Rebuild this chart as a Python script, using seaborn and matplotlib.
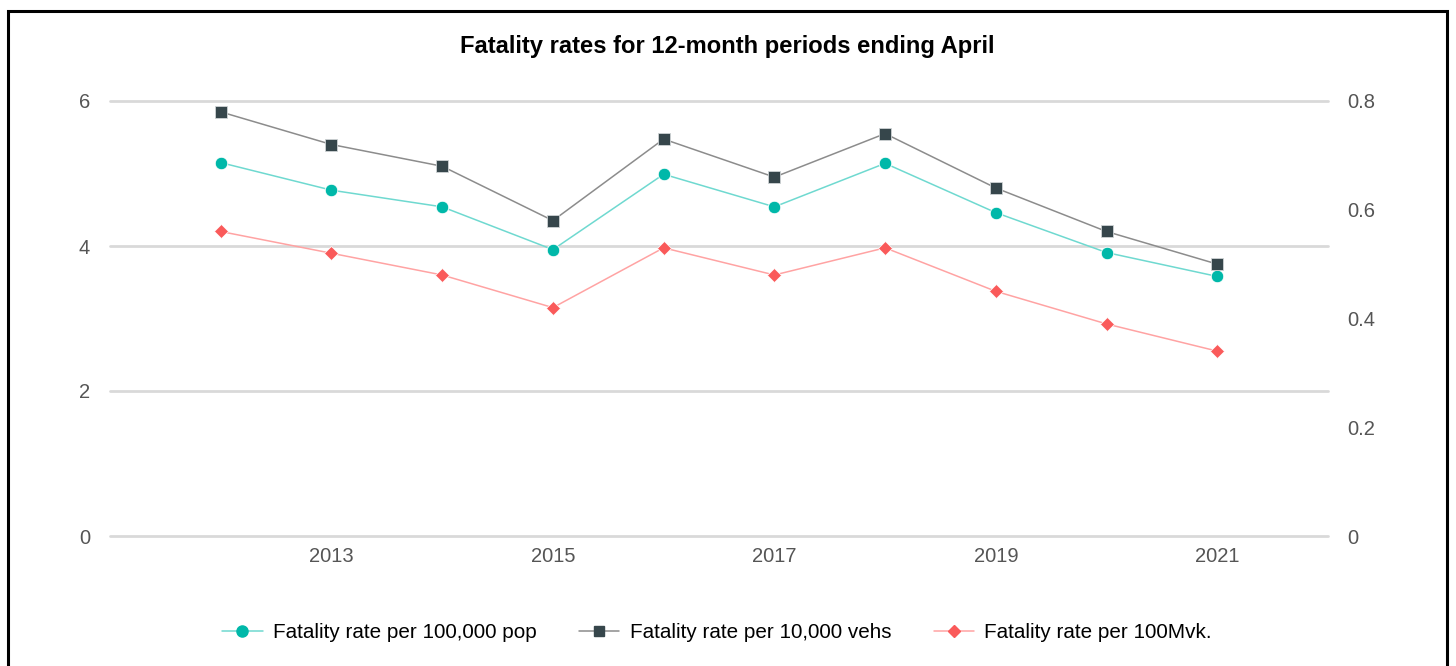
import matplotlib
matplotlib.use("Agg")
import matplotlib.pyplot as plt
from matplotlib.lines import Line2D
from matplotlib.patches import Rectangle
import seaborn as sns
import pandas as pd

# Fatality rates, 12-month periods ending April
years = [2012, 2013, 2014, 2015, 2016, 2017, 2018, 2019, 2020, 2021]
rate_per_100k_pop = [5.15, 4.77, 4.54, 3.95, 4.99, 4.54, 5.14, 4.46, 3.91, 3.58]
rate_per_10k_vehs = [0.78, 0.72, 0.68, 0.58, 0.73, 0.66, 0.74, 0.64, 0.56, 0.50]
rate_per_100mvk = [0.56, 0.52, 0.48, 0.42, 0.53, 0.48, 0.53, 0.45, 0.39, 0.34]

series_labels = ["Fatality rate per 100,000 pop",
                 "Fatality rate per 10,000 vehs",
                 "Fatality rate per 100Mvk."]
left_ticks = [0, 2, 4, 6]
right_ticks = [0, 0.2, 0.4, 0.6, 0.8]
right_tick_labels = ["0", "0.2", "0.4", "0.6", "0.8"]
x_ticks = [2013, 2015, 2017, 2019, 2021]

df = pd.DataFrame({
    "year": years,
    "pop": rate_per_100k_pop,
    "vehs": rate_per_10k_vehs,
    "mvk": rate_per_100mvk,
})

sns.set_theme(style="white")
plt.rcParams["font.family"] = ["Liberation Sans", "DejaVu Sans"]

fig = plt.figure(figsize=(14.56, 6.66), dpi=100)
ax = fig.add_axes([110 / 1456, 1 - 536 / 666, (1328 - 110) / 1456, (536 - 101) / 666])
ax2 = ax.twinx()

teal_mk, teal_ln = "#00b8a9", "#6fd9d0"
dark_mk, dark_ln = "#36464b", "#8c8c8c"
red_mk, red_ln = "#fa5a5a", "#ffa3a3"

sns.lineplot(data=df, x="year", y="pop", ax=ax, color=teal_ln, lw=1.1,
             marker="o", markersize=9, markerfacecolor=teal_mk,
             markeredgecolor="white", markeredgewidth=0.6, zorder=3)
sns.lineplot(data=df, x="year", y="vehs", ax=ax2, color=dark_ln, lw=1.1,
             marker="s", markersize=9, markerfacecolor=dark_mk,
             markeredgecolor="#cfd4d6", markeredgewidth=0.6, zorder=3)
sns.lineplot(data=df, x="year", y="mvk", ax=ax2, color=red_ln, lw=1.1,
             marker="D", markersize=7, markerfacecolor=red_mk,
             markeredgecolor="white", markeredgewidth=0.5, zorder=3)

ax.set_xlim(2011, 2022)
ax.set_ylim(0, 6)
ax2.set_ylim(0, 0.8)
ax.set_xticks(x_ticks)
ax.set_yticks(left_ticks)
ax2.set_yticks(right_ticks)
ax2.set_yticklabels(right_tick_labels)

ax.grid(axis="y", color="#d9d9d9", lw=2)
ax.grid(axis="x", visible=False)
ax2.grid(False)
for line in ax.get_ygridlines():
    line.set_clip_on(False)
for a in (ax, ax2):
    for s in a.spines.values():
        s.set_visible(False)
    a.set_xlabel("")
    a.set_ylabel("")
    a.tick_params(length=0, labelsize=14.5, labelcolor="#555555")
ax.tick_params(axis="y", pad=14.4)
ax2.tick_params(axis="y", pad=13.7)
ax.tick_params(axis="x", pad=8)
ax.set_axisbelow(True)
ax.patch.set_visible(False)
ax2.patch.set_visible(False)
ax.set_zorder(1)
ax2.set_zorder(2)

fig.text(727 / 1456, 1 - 47 / 666, "Fatality rates for 12-month periods ending April",
         ha="center", va="center", fontsize=17.1, fontweight="bold", color="black")

handles = [
    Line2D([], [], color=teal_ln, lw=1.1, marker="o", markersize=8,
           markerfacecolor=teal_mk, markeredgecolor=teal_mk),
    Line2D([], [], color=dark_ln, lw=1.1, marker="s", markersize=7,
           markerfacecolor=dark_mk, markeredgecolor=dark_mk),
    Line2D([], [], color=red_ln, lw=1.1, marker="D", markersize=6,
           markerfacecolor=red_mk, markeredgecolor=red_mk),
]
fig.legend(handles, series_labels, loc="center", ncol=3,
           bbox_to_anchor=(717 / 1456, 1 - 633 / 666), frameon=False,
           fontsize=14.9, handlelength=1.95, columnspacing=2.05, handletextpad=0.5,
           labelcolor="black")

fig.patches.append(Rectangle((8 / 1456, -0.05), (1447 - 8) / 1456, 1.05 - 11 / 666,
                             transform=fig.transFigure, fill=False,
                             edgecolor="black", lw=2.2))

fig.savefig("out.png", dpi=100, facecolor="white")
